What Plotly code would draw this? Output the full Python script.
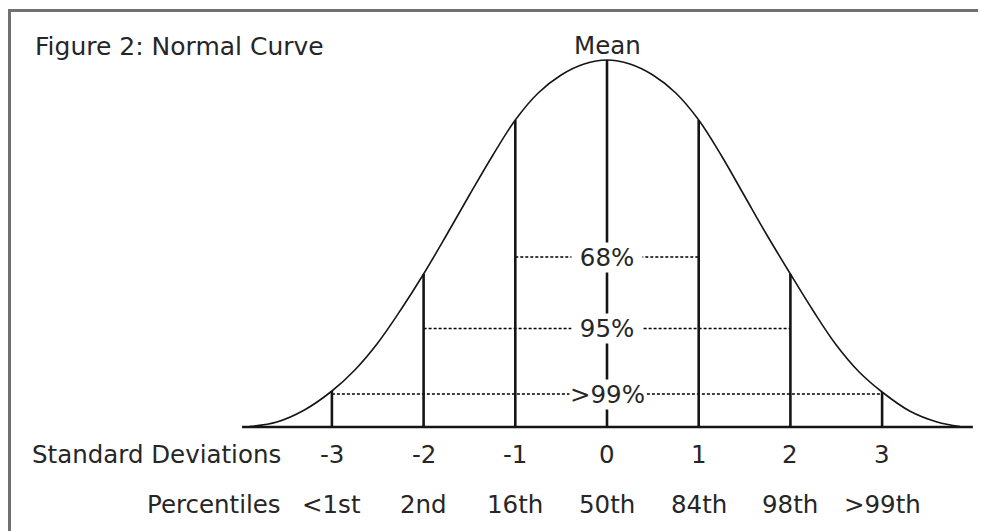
import plotly.graph_objects as go

# ---- data ----
curve_sd = [-3.9, -3.6, -3.3, -3.0, -2.75, -2.5, -2.25, -2.0, -1.75, -1.5, -1.25, -1.0,
            -0.75, -0.5, -0.25, 0.0, 0.25, 0.5, 0.75, 1.0, 1.25, 1.5, 1.75, 2.0,
            2.25, 2.5, 2.75, 3.0, 3.3, 3.6, 3.85]
curve_height = [0.5, 5, 17, 36, 57, 84, 117, 153, 192, 232, 271, 307,
                334, 352, 363, 367, 363, 352, 334, 307, 271, 231, 191, 153,
                116, 82, 55, 35, 16, 5, 0.5]

sd_ticks = [-3, -2, -1, 0, 1, 2, 3]
sd_tick_labels = ["-3", "-2", "-1", "0", "1", "2", "3"]
percentile_labels = ["<1st", "2nd", "16th", "50th", "84th", "98th", ">99th"]
tick_line_height = [36, 153, 307, 367, 307, 153, 35]

band_labels = ["68%", "95%", ">99%"]
band_halfwidth_sd = [1, 2, 3]
band_height = [170, 98.5, 33]

baseline_extent = [-3.98, 3.99]

title_text = "Figure 2: Normal Curve"
mean_text = "Mean"
row1_label = "Standard Deviations"
row2_label = "Percentiles"

# ---- styling ----
FONT = "DejaVu Sans"
TXT = "#262626"
LINE = "#151515"
W, H = 982, 531
PX_PER_SD = 91.7
X0_PX = 607
BASE_PX = 427

x_range = [-X0_PX / PX_PER_SD, (W - X0_PX) / PX_PER_SD]
y_range = [BASE_PX - H, BASE_PX]

fig = go.Figure()

# curve
fig.add_trace(go.Scatter(x=curve_sd, y=curve_height, mode="lines",
                         line=dict(color=LINE, width=1.6, shape="spline", smoothing=1.0),
                         hoverinfo="skip", showlegend=False))

# baseline
fig.add_trace(go.Scatter(x=baseline_extent, y=[0, 0], mode="lines",
                         line=dict(color=LINE, width=2.6),
                         hoverinfo="skip", showlegend=False))

# dashed band lines
dx, dy = [], []
for hw, h in zip(band_halfwidth_sd, band_height):
    dx += [-hw, hw, None]
    dy += [h, h, None]
fig.add_trace(go.Scatter(x=dx, y=dy, mode="lines",
                         line=dict(color="#000000", width=1.3, dash="3px,2px"),
                         hoverinfo="skip", showlegend=False))

# vertical lines at each standard deviation
vx, vy = [], []
for s, h in zip(sd_ticks, tick_line_height):
    vx += [s, s, None]
    vy += [0, h, None]
fig.add_trace(go.Scatter(x=vx, y=vy, mode="lines",
                         line=dict(color=LINE, width=2.6),
                         hoverinfo="skip", showlegend=False))

ann = []
# band labels with white background (break the lines)
for lab, h in zip(band_labels, band_height):
    txt = lab if lab.startswith(">") else " " + lab + " "
    ann.append(dict(x=0, y=h, text=txt, showarrow=False, xanchor="center", yanchor="middle",
                    bgcolor="white", borderpad=0,
                    font=dict(family=FONT, size=24.5, color=TXT)))

# tick labels
for s, t, p in zip(sd_ticks, sd_tick_labels, percentile_labels):
    ann.append(dict(x=s, y=-27, text=t, showarrow=False, xanchor="center", yanchor="middle",
                    font=dict(family=FONT, size=24.5, color=TXT)))
    ann.append(dict(x=s, y=-77, text=p, showarrow=False, xanchor="center", yanchor="middle",
                    font=dict(family=FONT, size=24.5, color=TXT)))

row_label_x = (283 - X0_PX) / PX_PER_SD
ann.append(dict(x=row_label_x, y=-27, text=row1_label, showarrow=False, xanchor="right",
                yanchor="middle", font=dict(family=FONT, size=24.5, color=TXT)))
ann.append(dict(x=row_label_x, y=-77, text=row2_label, showarrow=False, xanchor="right",
                yanchor="middle", font=dict(family=FONT, size=24.5, color=TXT)))

ann.append(dict(x=0, y=382, text=mean_text, showarrow=False, xanchor="center", yanchor="middle",
                font=dict(family=FONT, size=24.5, color=TXT)))
ann.append(dict(x=33 / W, y=1 - 46 / H, xref="paper", yref="paper", text=title_text,
                showarrow=False, xanchor="left", yanchor="middle",
                font=dict(family=FONT, size=25, color=TXT)))

# frame (only top and left edges are visible in the cropped original)
fl = 9.5 / W
ft = 1 - 10.5 / H
shapes = [
    dict(type="path", xref="paper", yref="paper",
         path=f"M {fl},0 L {fl},{ft} L 0.996,{ft}",
         line=dict(color="#707070", width=3), fillcolor="rgba(0,0,0,0)"),
]

fig.update_layout(
    width=W, height=H, autosize=False,
    margin=dict(l=0, r=0, t=0, b=0, pad=0),
    paper_bgcolor="white", plot_bgcolor="white",
    xaxis=dict(range=x_range, visible=False, fixedrange=True),
    yaxis=dict(range=y_range, visible=False, fixedrange=True),
    annotations=ann, shapes=shapes, showlegend=False,
)

fig.write_html("out.html", config={"displayModeBar": False},
               post_script="document.body.style.margin='0';document.body.style.overflow='hidden';")
